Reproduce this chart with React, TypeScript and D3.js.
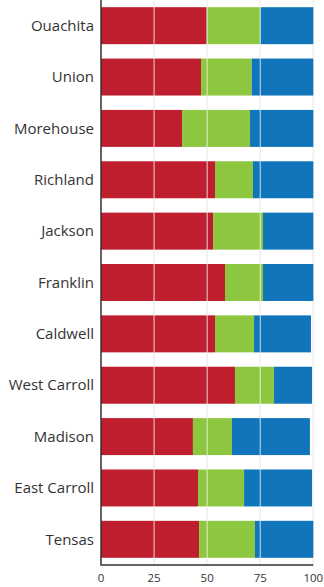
import React from "react";
import * as d3 from "d3";

const categories = ["Ouachita","Union","Morehouse","Richland","Jackson","Franklin","Caldwell","West Carroll","Madison","East Carroll","Tensas"];
const redValues = [49.8,47.1,38.2,53.7,52.8,58.4,53.7,63.1,43.3,45.7,46.2];
const greenValues = [25.2,23.9,32.0,17.9,23.5,17.9,18.4,18.4,18.4,21.7,26.3];
const blueValues = [25.0,29.0,29.8,28.4,23.7,23.7,26.8,17.9,36.7,32.0,27.5];
const xTicks = [0,25,50,75,100];
const seriesColors = ["#be1e2d","#8dc63f","#1175bb"];

export default function App() {
  const W = 324, H = 587;
  const left = 101, right = 313.3, top = 0, bottom = 565;
  const x = d3.scaleLinear().domain([0,100]).range([left,right]);
  const y = d3.scaleBand<string>().domain(categories).range([top,bottom]).paddingInner(0.28).paddingOuter(0.14);
  const rows = categories.map((c,i)=>({c, vals:[redValues[i],greenValues[i],blueValues[i]]}));
  return (
    <svg width={W} height={H} style={{position:"absolute",left:0,top:0}} fontFamily="'Open Sans', sans-serif">
      {xTicks.slice(1).map(t=>(
        <line key={"b"+t} x1={x(t)} x2={x(t)} y1={top} y2={bottom} stroke="#eeeeee" strokeWidth={1.5} />
      ))}
      {rows.map(r=>{
        let acc = 0;
        return <g key={r.c}>
          {r.vals.map((v,j)=>{
            const x0 = x(acc); acc += v; const x1 = x(acc);
            return <rect key={j} x={x0} y={y(r.c)} width={x1-x0} height={y.bandwidth()} fill={seriesColors[j]} />;
          })}
          <text x={94} y={(y(r.c) as number)+y.bandwidth()/2} dy="0.35em" textAnchor="end" fontSize={15} fill="#333">{r.c}</text>
        </g>;
      })}
      {xTicks.slice(1,4).map(t=>(
        <line key={t} x1={x(t)} x2={x(t)} y1={top} y2={bottom} stroke="#f4f4f4" strokeWidth={1} opacity={0.85} />
      ))}
      <path d={`M${left},${top}V${bottom}H${right}`} fill="none" stroke="#333" strokeWidth={1.5} />
      {xTicks.map(t=>(
        <text key={t} x={x(t)} y={582} textAnchor="middle" fontSize={11.5} fill="#333">{t}</text>
      ))}
    </svg>
  );
}
